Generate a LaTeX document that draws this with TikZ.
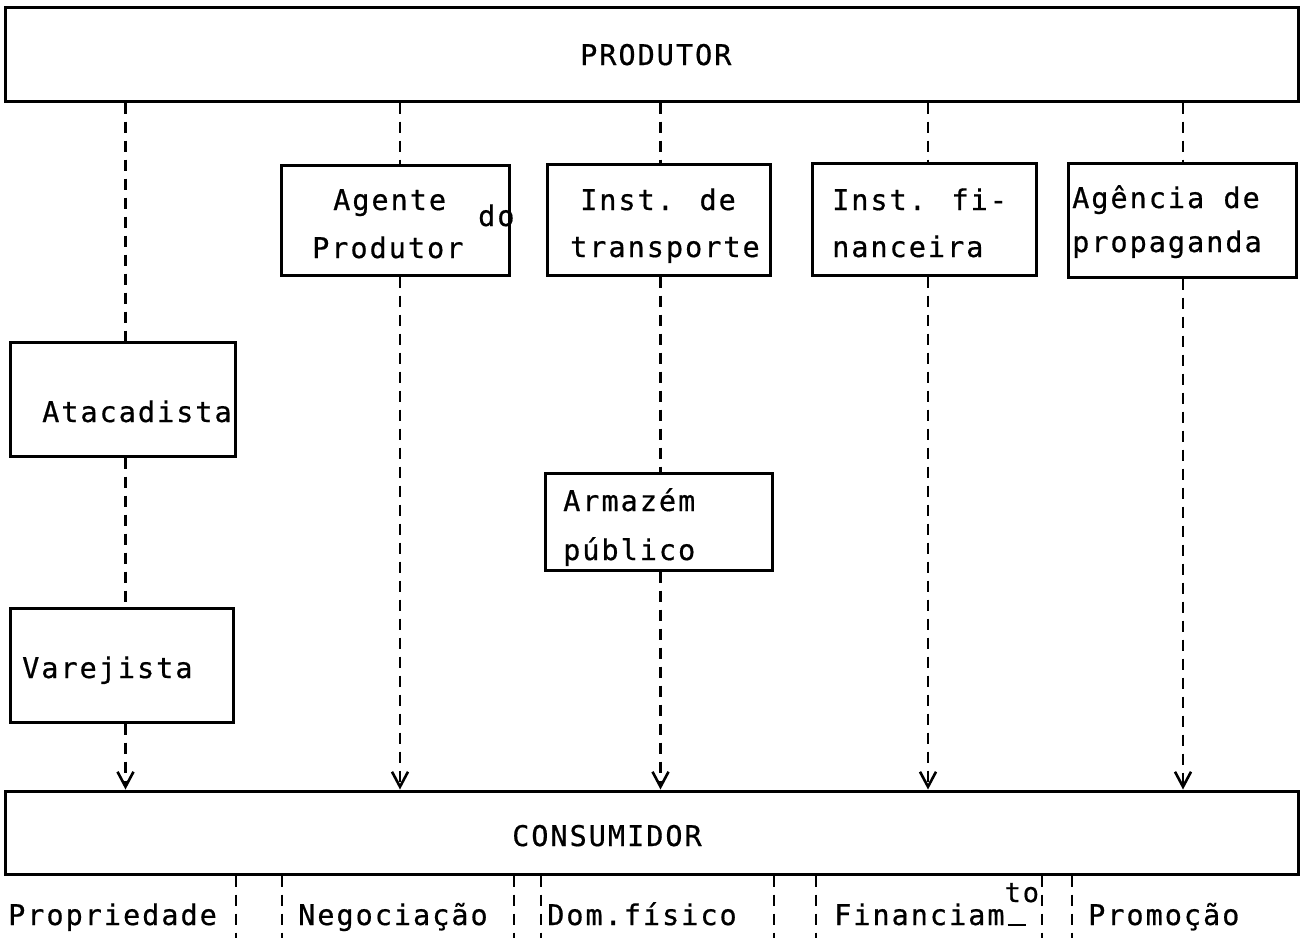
\documentclass[tikz,border=0pt]{standalone}
\usepackage{fontspec}
\newfontfamily\tw{DejaVu Sans Mono}[LetterSpace=7,FakeBold=0.6]
\usetikzlibrary{arrows.meta}

\begin{document}
\begin{tikzpicture}[x=1pt,y=-1pt,
  box/.style={draw, line width=3pt, inner sep=0pt},
  lbl/.style={anchor=base west, inner sep=0pt, font=\tw\fontsize{28.5}{32}\selectfont},
  link/.style={line width=2.4pt, dash pattern=on 11pt off 8pt},
  flow/.style={link, -{Straight Barb[length=15pt,width=16pt,line width=2.6pt]}}]
\useasboundingbox (0,0) rectangle (1300,938);

% boxes
\node[box, minimum width=1293pt, minimum height=94pt]  (prod)    at (651.5,54)   {};
\node[box, minimum width=228pt,  minimum height=110pt] (agente)  at (395,220)    {};
\node[box, minimum width=223pt,  minimum height=111pt] (transp)  at (658.5,219.5){};
\node[box, minimum width=224pt,  minimum height=112pt] (finan)   at (924,219)    {};
\node[box, minimum width=228pt,  minimum height=114pt] (agencia) at (1182,220)   {};
\node[box, minimum width=225pt,  minimum height=114pt] (atac)    at (122.5,399)  {};
\node[box, minimum width=223pt,  minimum height=114pt] (varej)   at (121.5,665)  {};
\node[box, minimum width=227pt,  minimum height=97pt]  (armaz)   at (658.5,521.5){};
\node[box, minimum width=1293pt, minimum height=83pt]  (cons)    at (651.5,832.5){};

% box texts
\node[lbl] (t-prod)   at (580,65)   {PRODUTOR};
\node[lbl] (t-ag1)    at (333,210)  {Agente};
\node[lbl] (t-ag2)    at (478,226)  {do};
\node[lbl] (t-ag3)    at (312,258)  {Produtor};
\node[lbl] (t-tr1)    at (580,210)  {Inst. de};
\node[lbl] (t-tr2)    at (570,257)  {transporte};
\node[lbl] (t-fi1)    at (832,210)  {Inst. fi-};
\node[lbl] (t-fi2)    at (832,257)  {nanceira};
\node[lbl] (t-ap1)    at (1072,208) {Agência de};
\node[lbl] (t-ap2)    at (1072,252) {propaganda};
\node[lbl] (t-atac)   at (42,422)   {Atacadista};
\node[lbl] (t-arm1)   at (563,511)  {Armazém};
\node[lbl] (t-arm2)   at (563,560)  {público};
\node[lbl] (t-var)    at (22,678)   {Varejista};
\node[lbl] (t-cons)   at (512,846)  {CONSUMIDOR};

% flow labels below the consumer
\node[lbl] (f-prop) at (8,925)    {Propriedade};
\node[lbl] (f-neg)  at (298,925)  {Negociação};
\node[lbl] (f-dom)  at (547,925)  {Dom.físico};
\node[lbl] (f-fin)  at (834,925)  {Financiam\rlap{\raisebox{23pt}{\fontsize{27}{30}\selectfont to}}\hspace{3pt}\rule[-1pt]{18pt}{1.8pt}};
\node[lbl] (f-pro)  at (1088,925) {Promoção};

% column axes
\coordinate (c1) at ([xshift=3pt]atac.north);
\coordinate (c2) at ([xshift=5pt]agente.north);
\coordinate (c3) at ([xshift=2pt]transp.north);
\coordinate (c4) at ([xshift=4pt]finan.north);
\coordinate (c5) at ([xshift=1pt]agencia.north);

% column 1: wholesaler and retailer
\draw[link] (prod.south -| c1) -- (atac.north -| c1);
\draw[link] (atac.south -| c1) -- (varej.north -| c1);
\draw[flow] (varej.south -| c1) -- (cons.north -| c1);
% column 2
\draw[link] (prod.south -| c2) -- (agente.north -| c2);
\draw[flow] (agente.south -| c2) -- (cons.north -| c2);
% column 3
\draw[link] (prod.south -| c3) -- (transp.north -| c3);
\draw[link] (transp.south -| c3) -- (armaz.north -| c3);
\draw[flow] (armaz.south -| c3) -- (cons.north -| c3);
% column 4
\draw[link] (prod.south -| c4) -- (finan.north -| c4);
\draw[flow] (finan.south -| c4) -- (cons.north -| c4);
% column 5
\draw[link] (prod.south -| c5) -- (agencia.north -| c5);
\draw[flow] (agencia.south -| c5) -- (cons.north -| c5);

% separators between flow labels
\foreach \sx [count=\i] in {236,282,514,541,774,816,1042,1072} {
  \coordinate (sep\i) at (\sx,938);
  \draw[link] (cons.south -| sep\i) -- (sep\i);
}
\end{tikzpicture}
\end{document}
